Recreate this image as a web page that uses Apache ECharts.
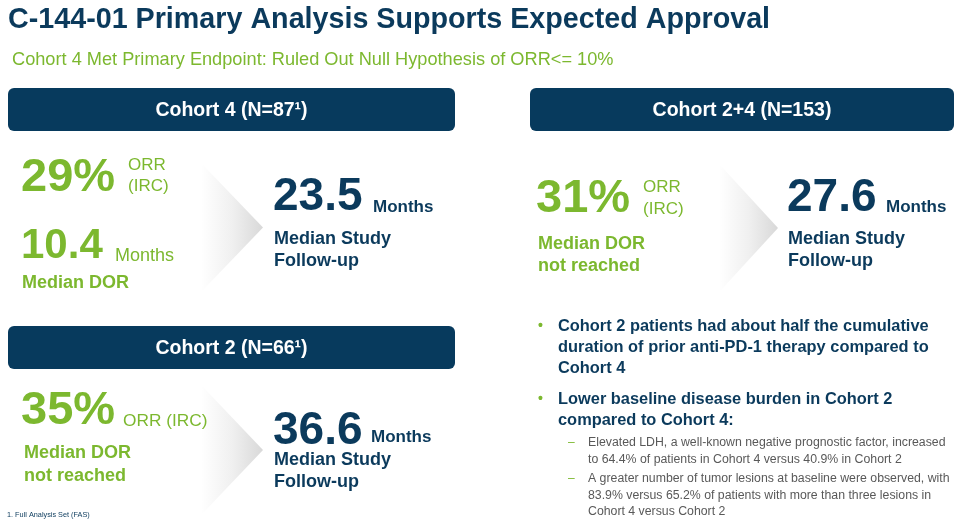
<!DOCTYPE html>
<html>
<head>
<meta charset="utf-8">
<script src="https://cdn.jsdelivr.net/npm/echarts@6/dist/echarts.min.js"></script>
<style>html,body{margin:0;padding:0;background:#fff}#c{width:960px;height:520px}</style>
</head>
<body>
<div id="c"></div>
<script>
// ---- content ----
const titleText = 'C-144-01 Primary Analysis Supports Expected Approval';
const subtitleText = 'Cohort 4 Met Primary Endpoint: Ruled Out Null Hypothesis of ORR<= 10%';
const cohortHeaders = ['Cohort 4 (N=87\u00B9)', 'Cohort 2+4 (N=153)', 'Cohort 2 (N=66\u00B9)'];
const orrPercent = [29, 31, 35];
const orrLabel = ['ORR', '(IRC)'];
const dorMonths = [10.4, null, null];
const dorLabels = ['Median DOR', 'not reached'];
const followUpMonths = [23.5, 27.6, 36.6];
const followUpLabel = ['Median Study', 'Follow-up'];
const unitLabel = 'Months';
const bullets = [
  ['Cohort 2 patients had about half the cumulative', 'duration of prior anti-PD-1 therapy compared to', 'Cohort 4'],
  ['Lower baseline disease burden in Cohort 2', 'compared to Cohort 4:']
];
const subBullets = [
  ['Elevated LDH, a well-known negative prognostic factor, increased', 'to 64.4% of patients in Cohort 4 versus 40.9% in Cohort 2'],
  ['A greater number of tumor lesions at baseline were observed, with', '83.9% versus 65.2% of patients with more than three lesions in', 'Cohort 4 versus Cohort 2']
];
const footnoteText = '1. Full Analysis Set (FAS)';

// ---- styles ----
const NAVY = '#0b3a5c', BOX = '#073a5d', GREEN = '#7cb82f', GRAY = '#595959';
const FF = '"Liberation Sans", Arial, sans-serif';
const f = (w, s) => `${w} ${s}px ${FF}`;
const els = [];
function txt(x, y, text, font, fill, align) {
  els.push({type: 'text', style: {x, y, text, font, fill, textAlign: align || 'left', textVerticalAlign: 'middle'}});
}
function box(x, y, w, h, label) {
  els.push({type: 'rect', shape: {x, y, width: w, height: h, r: 6}, style: {fill: BOX}});
  txt(x + w / 2, y + h / 2 + 1, label, f('bold', 19.5), '#ffffff', 'center');
}
function chevron(x0, yTop, tipX, yBot) {
  const yMid = (yTop + yBot) / 2;
  els.push({type: 'polygon', shape: {points: [[x0, yTop], [x0 + 2, yTop], [tipX, yMid], [x0 + 2, yBot], [x0, yBot]]},
    style: {fill: new echarts.graphic.LinearGradient(0, 0, 1, 0, [
      {offset: 0, color: 'rgba(255,255,255,1)'}, {offset: 0.5, color: '#f0f0f0'}, {offset: 1, color: '#d8d8d8'}])}});
}

txt(8, 20, titleText, f('bold', 28.7), NAVY);
txt(12, 60, subtitleText, f('normal', 18.2), GREEN);

box(8, 88, 447, 43, cohortHeaders[0]);
box(530, 88, 424, 43, cohortHeaders[1]);
box(8, 326, 447, 43, cohortHeaders[2]);

chevron(201, 165, 263, 290);
chevron(719, 166, 778, 290);
chevron(201, 387, 263, 513);

// Cohort 4
txt(21, 178, orrPercent[0] + '%', f('bold', 47), GREEN);
txt(128, 165, orrLabel[0], f('normal', 17), GREEN);
txt(128, 186, orrLabel[1], f('normal', 17), GREEN);
txt(21, 246, String(dorMonths[0]), f('bold', 42), GREEN);
txt(115, 256, unitLabel, f('normal', 18), GREEN);
txt(22, 283, dorLabels[0], f('bold', 18), GREEN);
txt(273, 197, String(followUpMonths[0]), f('bold', 46), NAVY);
txt(373, 207, unitLabel, f('bold', 17), NAVY);
txt(274, 239, followUpLabel[0], f('bold', 18), NAVY);
txt(274, 261, followUpLabel[1], f('bold', 18), NAVY);

// Cohort 2+4
txt(536, 199, orrPercent[1] + '%', f('bold', 47), GREEN);
txt(643, 187, orrLabel[0], f('normal', 17), GREEN);
txt(643, 209, orrLabel[1], f('normal', 17), GREEN);
txt(538, 244, dorLabels[0], f('bold', 18), GREEN);
txt(538, 266, dorLabels[1], f('bold', 18), GREEN);
txt(787, 198, String(followUpMonths[1]), f('bold', 46), NAVY);
txt(886, 207, unitLabel, f('bold', 17), NAVY);
txt(788, 239, followUpLabel[0], f('bold', 18), NAVY);
txt(788, 261, followUpLabel[1], f('bold', 18), NAVY);

// Cohort 2
txt(21, 411, orrPercent[2] + '%', f('bold', 47), GREEN);
txt(123, 421, orrLabel.join(' '), f('normal', 17.3), GREEN);
txt(24, 453, dorLabels[0], f('bold', 18), GREEN);
txt(24, 476, dorLabels[1], f('bold', 18), GREEN);
txt(273, 431, String(followUpMonths[2]), f('bold', 46), NAVY);
txt(371, 437, unitLabel, f('bold', 17), NAVY);
txt(274, 460, followUpLabel[0], f('bold', 18), NAVY);
txt(274, 482, followUpLabel[1], f('bold', 18), NAVY);

// bullets
const bulletY = [326, 399];
bullets.forEach((lines, i) => {
  txt(538, bulletY[i], '\u2022', f('bold', 14), GREEN);
  lines.forEach((l, j) => txt(558, bulletY[i] + j * 21, l, f('bold', 16.4), NAVY));
});
const subY = [443, 479];
subBullets.forEach((lines, i) => {
  txt(568, subY[i], '\u2013', f('normal', 12), GREEN);
  lines.forEach((l, j) => txt(588, subY[i] + j * 16.5, l, f('normal', 12.3), GRAY));
});
txt(7, 515, footnoteText, f('normal', 7.3), NAVY);

const chart = echarts.init(document.getElementById('c'), null, {renderer: 'canvas'});
chart.setOption({backgroundColor: '#ffffff', animation: false, graphic: {elements: els}});
</script>
</body>
</html>
